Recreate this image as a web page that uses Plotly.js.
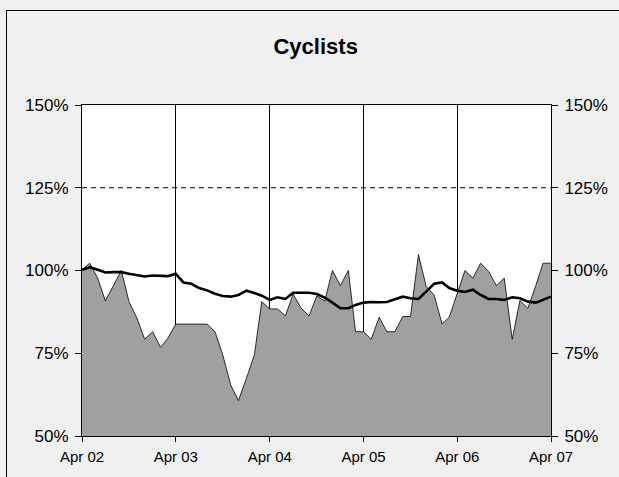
<!DOCTYPE html>
<html>
<head>
<meta charset="utf-8">
<script src="https://cdn.plot.ly/plotly-3.0.1.min.js"></script>
<style>
html,body{margin:0;padding:0;background:#f0f0f0;overflow:hidden;}
#frame{position:absolute;left:6px;top:10px;width:800px;height:700px;border:1.5px solid #000;background:#f0f0f0;}
#chart{position:absolute;left:0;top:0;width:619px;height:477px;}
</style>
</head>
<body>
<div id="frame"></div>
<div id="chart"></div>
<script>
// Monthly index values (%), Apr 2002 .. Apr 2007
const startYear = 2002, startMonth = 4;
const cyclists = [
  100.2, 102.2, 97.7, 90.8, 95.4, 100, 90.6, 85.6, 79.2, 81.5, 76.8, 79.5,
  83.8, 83.8, 83.8, 83.8, 83.8, 81.5, 74.5, 65.4, 60.7, 67.4, 74.5, 90.6,
  88.4, 88.4, 86.3, 92.9, 88.6, 86.3, 92.3, 90.8, 100, 95.4, 100, 81.5,
  81.5, 79.2, 85.9, 81.5, 81.5, 86.1, 86.1, 104.8, 95.2, 92.6, 83.8, 85.9,
  93.2, 100, 97.7, 102.2, 99.7, 95.4, 97.7, 79.2, 90.9, 88.6, 95.5, 102.2,
  102.2
];
const trend = [
  100.2, 101, 100.2, 99.4, 99.5, 99.5, 99, 98.5, 98.2, 98.5, 98.3, 98.3,
  99, 96.4, 96, 94.7, 94, 93, 92.3, 92.1, 92.6, 93.9, 93.2, 92.4,
  91.1, 91.9, 91.4, 93.3, 93.3, 93.3, 92.9, 91.8, 90.3, 88.6, 88.6, 89.6,
  90.3, 90.5, 90.4, 90.5, 91.3, 92.1, 91.6, 91.4, 93.6, 96, 96.4, 94.7,
  93.9, 93.5, 94.2, 92.6, 91.4, 91.4, 91.1, 91.9, 91.6, 90.6, 90.3, 91.1,
  92.1
];
const yTicks = [50, 75, 100, 125, 150];
const refLine = 125;

const months = cyclists.map((_, i) => {
  const m0 = startMonth - 1 + i;
  const y = startYear + Math.floor(m0 / 12);
  const m = (m0 % 12) + 1;
  return y + '-' + String(m).padStart(2, '0') + '-01';
});

const font = {family: 'Liberation Sans, Arial, sans-serif', color: '#000'};

const traces = [
  {x: months, y: cyclists, type: 'scatter', mode: 'lines', fill: 'tozeroy',
   fillcolor: '#a0a0a0', line: {color: '#000', width: 0.8}, hoverinfo: 'skip'},
  {x: months, y: trend, type: 'scatter', mode: 'lines',
   line: {color: '#000', width: 2.6}, hoverinfo: 'skip'},
  {x: [months[0]], y: [null], yaxis: 'y2', type: 'scatter', mode: 'lines', hoverinfo: 'skip'}
];

const yax = {
  range: [50, 150], tickvals: yTicks, ticktext: yTicks.map(v => v + '%'),
  ticks: 'outside', ticklen: 6, tickcolor: '#000', tickwidth: 1,
  ticklabelstandoff: 3,
  showgrid: false, zeroline: false, showline: true, linecolor: '#000', linewidth: 1,
  tickfont: Object.assign({size: 17}, font), fixedrange: true
};

const layout = {
  width: 619, height: 477,
  margin: {l: 82, r: 68, t: 105, b: 41},
  paper_bgcolor: 'rgba(0,0,0,0)', plot_bgcolor: '#ffffff',
  showlegend: false,
  title: {text: '<b>Cyclists</b>', font: Object.assign({size: 22}, font),
          x: 0.51, xanchor: 'center', y: 0.903, yanchor: 'middle'},
  xaxis: {
    type: 'date', range: [months[0], months[months.length - 1]],
    tick0: months[0], dtick: 'M12', tickformat: '%b %y',
    ticks: 'outside', ticklen: 5, tickcolor: '#000',
    ticklabelstandoff: 2,
    showgrid: true, gridcolor: '#000', gridwidth: 1,
    showline: true, mirror: true, linecolor: '#000', linewidth: 1,
    tickfont: Object.assign({size: 15}, font), fixedrange: true
  },
  yaxis: Object.assign({}, yax, {side: 'left', mirror: false}),
  yaxis2: Object.assign({}, yax, {side: 'right', overlaying: 'y', matches: 'y'}),
  shapes: [
    {type: 'line', xref: 'paper', x0: 0, x1: 1, yref: 'y', y0: refLine, y1: refLine,
     line: {color: '#000', width: 1, dash: '5px,4px'}, layer: 'above'}
  ]
};

Plotly.newPlot('chart', traces, layout, {displayModeBar: false, staticPlot: true});
</script>
</body>
</html>
